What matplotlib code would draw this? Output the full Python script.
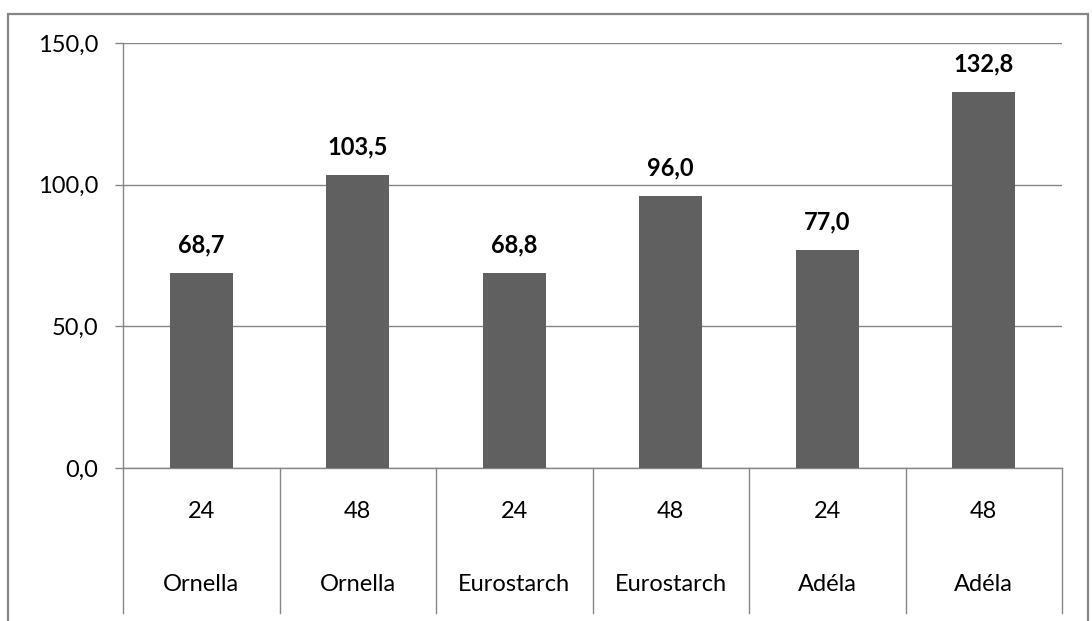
import matplotlib.pyplot as plt
import matplotlib.transforms as mtransforms
from matplotlib.patches import Rectangle

# Data
hours = ["24", "48", "24", "48", "24", "48"]
varieties = ["Ornella", "Ornella", "Eurostarch", "Eurostarch", "Adéla", "Adéla"]
values = [68.7, 103.5, 68.8, 96.0, 77.0, 132.8]
y_ticks = [0, 50, 100, 150]

plt.rcParams['font.family'] = ['Lato', 'DejaVu Sans']
grey_line = '#868686'
bar_color = '#606060'
fs = 17

fig = plt.figure(figsize=(10.92, 6.21), dpi=100)
ax = fig.add_axes([123 / 1092, 1 - 468 / 621, (1062 - 123) / 1092, (468 - 43) / 621])

x = list(range(len(values)))
ax.bar(x, values, width=0.40, color=bar_color, zorder=3)

for xi, v in zip(x, values):
    ax.annotate(f"{v:.1f}".replace(".", ","), (xi, v), textcoords="offset points",
                xytext=(0, 12), ha='center', va='bottom', fontsize=fs,
                fontweight='bold', color='black')

ax.set_xlim(-0.5, len(values) - 0.5)
ax.set_ylim(0, 150)
ax.set_yticks(y_ticks)
ax.set_yticklabels([f"{t:.1f}".replace(".", ",") for t in y_ticks], fontsize=fs)
ax.yaxis.grid(True, color=grey_line, linewidth=1.0, zorder=0)
ax.tick_params(axis='y', length=6, width=1.0, color=grey_line, pad=12)
ax.set_xticks([])

for side in ['top', 'right']:
    ax.spines[side].set_visible(False)
for side in ['left', 'bottom']:
    ax.spines[side].set_color(grey_line)
    ax.spines[side].set_linewidth(1.0)

# Two-level category axis
trans = mtransforms.blended_transform_factory(ax.transData, ax.transAxes)
low = -145 / 425
for b in [i - 0.5 for i in range(len(values) + 1)]:
    ax.plot([b, b], [0, low], transform=trans, color=grey_line, linewidth=1.0,
            clip_on=False)
for xi, h, name in zip(x, hours, varieties):
    ax.text(xi, -0.1035, h, transform=trans, ha='center', va='center', fontsize=fs)
    ax.text(xi, -0.275, name, transform=trans, ha='center', va='center', fontsize=fs)

# Outer chart border
fig.patches.append(Rectangle((8 / 1092, -0.02), (1088 - 8) / 1092, 1.02 - 14 / 621,
                             transform=fig.transFigure, fill=False,
                             edgecolor=grey_line, linewidth=1.6))

fig.savefig("out.png", dpi=100)
